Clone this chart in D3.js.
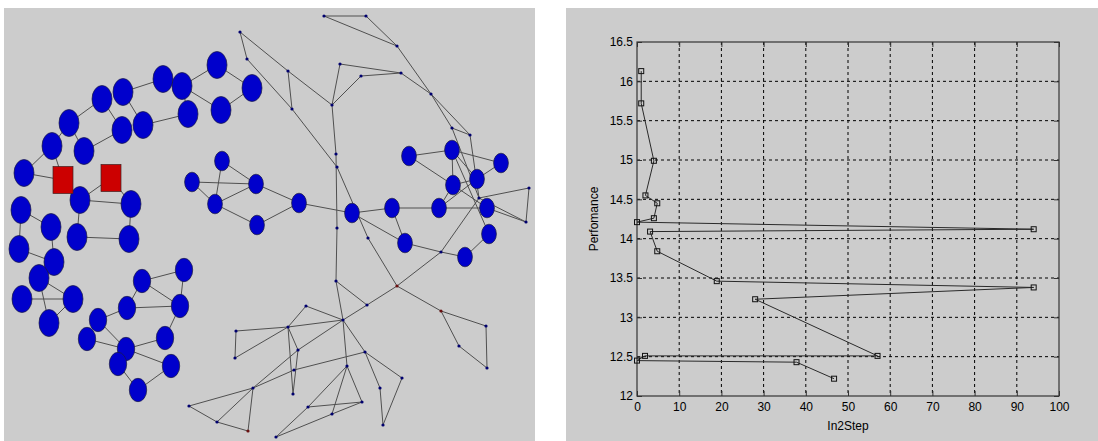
<!DOCTYPE html>
<html>
<head>
<meta charset="utf-8">
<script src="https://cdn.jsdelivr.net/npm/d3@7"></script>
<style>
body { margin: 0; background: #fff; }
svg text { font-family: "Liberation Sans", Arial, Helvetica, sans-serif; }
</style>
</head>
<body>
<svg id="chart" width="1098" height="441"></svg>
<script>
// ---- network panel: node positions ----
var bigNodes = [
  ["a1",24,173],["a2",52,146],["a3",69,123],["a4",84,151],["a5",102,99],["a6",122,130],
  ["a7",123,92],["a8",143,125],["a9",163,79],["a10",182,86],["a11",188,114],["a12",217,65],
  ["a13",221,110],["a14",252,88],["a15",80,200],["a16",131,204],["a17",21,210],["a18",51,227],
  ["a19",77,237],["a20",129,239],["a21",19,249],["a22",54,262],["a23",39,278],["a24",22,299],
  ["a25",73,299],["a26",49,323]
];
var midNodes = [
  ["b1",142,281],["b2",184,270],["b3",127,308],["b4",180,306],["b5",98,320],["b6",87,339],
  ["b7",126,349],["b8",118,364],["b9",165,338],["b10",171,366],["b11",138,390]
];
var smallNodes = [
  ["m1",222,161],["m2",192,182],["m3",215,204],["m4",256,184],["m5",257,225],["m6",299,203],
  ["m7",352,213],["m8",392,208],["m9",439,208],["m10",487,208],["m11",409,156],["m12",452,150],
  ["m13",501,163],["m14",453,185],["m15",477,179],["m16",489,234],["m17",405,243],["m18",465,257]
];
var squareNodes = [["r1",63,180],["r2",111,178]];
var dotNodes = [
  ["t1",324,16],["t2",366,16],["t3",397,46],["t4",240,32],["t5",247,59],["t6",288,71],
  ["t7",292,109],["t8",332,105],["t9",340,64],["t10",361,76],["t11",401,73],["t12",431,94],
  ["t13",452,128],["t14",470,135],["t15",479,198],["t16",529,188],["t17",526,222],["t18",441,252],
  ["t19",397,286],["t20",337,167],["t21",368,238],["t22",336,154],["t23",337,228],["t24",336,281],
  ["t25",343,320],["t26",367,305],["t27",441,311],["t28",486,326],["t29",459,346],["t30",487,368],
  ["t31",306,306],["t32",288,327],["t33",236,331],["t34",235,358],["t35",298,350],["t36",294,370],
  ["t37",293,394],["t38",253,388],["t39",189,406],["t40",217,422],["t41",248,431],["t42",365,352],
  ["t43",347,366],["t44",362,402],["t45",308,407],["t46",332,414],["t47",276,437],["t48",380,388],
  ["t49",402,378],["t50",383,425]
];
var redDots = ["t19","t27","t41"];

var netLinks = [
  // left arc
  ["a1","a2"],["a1","r1"],["a2","r1"],["a2","a3"],["a3","a4"],["a3","a5"],["a4","a6"],["a5","a6"],
  ["a7","a8"],["a7","a9"],["a8","a11"],["a9","a10"],["a10","a11"],["a10","a12"],["a10","a13"],
  ["a12","a14"],["a13","a14"],["r1","a15"],["r2","a15"],["r2","a16"],["a15","a16"],
  ["a17","a18"],["a18","a22"],["a21","a22"],["a21","a17"],["a22","a23"],["a23","a25"],["a24","a25"],
  ["a23","a26"],["a26","a25"],["a15","a19"],["a19","a20"],["a20","a16"],
  // lower left group
  ["b1","b2"],["b1","b4"],["b2","b4"],["b1","b3"],["b3","b4"],["b3","b5"],["b5","b7"],["b6","b7"],
  ["b7","b9"],["b7","b10"],["b4","b9"],["b8","b11"],["b11","b10"],
  // middle chain + right group
  ["m1","m3"],["m1","m4"],["m2","m3"],["m2","m4"],["m3","m5"],["m3","m4"],["m4","m6"],["m5","m6"],
  ["m6","m7"],["m7","m8"],["m7","m17"],["m8","m9"],["m8","m17"],["m17","t18"],["t18","m18"],
  ["m9","m10"],["m9","m15"],["m9","m14"],["m14","m10"],["m11","m12"],["m11","m14"],["m12","m14"],
  ["m12","m13"],["m12","m15"],["m14","m15"],["m15","m13"],["m16","m18"],["m10","t17"],["m12","m16"],
  // thin tree
  ["t1","t2"],["t1","t3"],["t2","t3"],["t3","t12"],["t12","t13"],["t11","t12"],["t12","t14"],
  ["t13","t14"],["t13","t15"],["t14","t15"],["t15","t16"],["t16","t17"],["t17","t15"],["t15","t18"],
  ["t18","t19"],["t4","t5"],["t4","t6"],["t6","t8"],["t6","t7"],["t5","t7"],["t7","t20"],["t20","t21"],
  ["t21","t19"],["t8","t9"],["t9","t11"],["t8","t10"],["t10","t11"],["t8","t22"],["t22","t23"],
  ["t23","t24"],["t24","t25"],["t24","t26"],["t19","t26"],["t26","t25"],["t19","t27"],["t27","t28"],
  ["t28","t30"],["t30","t29"],["t29","t27"],["t25","t31"],["t31","t32"],["t33","t32"],["t32","t25"],
  ["t33","t34"],["t34","t32"],["t32","t35"],["t32","t37"],["t35","t37"],["t25","t35"],["t35","t38"],
  ["t42","t36"],["t36","t38"],["t38","t39"],["t39","t40"],["t40","t38"],["t38","t41"],["t40","t41"],
  ["t25","t43"],["t25","t42"],["t42","t48"],["t42","t49"],["t48","t50"],["t49","t50"],
  ["t43","t45"],["t43","t46"],["t43","t44"],["t45","t44"],["t47","t46"],["t46","t44"],["t47","t45"]
];

// ---- In2Step vs Perfomance ----
var stepVals = [1, 1, 4, 2, 4.8, 4, 0, 94, 3.1, 4.8, 18.9, 94, 28, 57, 1.9, 0, 37.8, 46.7];
var perfVals = [16.13, 15.72, 14.99, 14.55, 14.45, 14.26, 14.21, 14.12, 14.09, 13.84, 13.46, 13.38, 13.23, 12.51, 12.51, 12.45, 12.43, 12.22];
var xTicks = [0, 10, 20, 30, 40, 50, 60, 70, 80, 90, 100];
var yTicks = [12, 12.5, 13, 13.5, 14, 14.5, 15, 15.5, 16, 16.5];
var xLabel = "In2Step", yLabel = "Perfomance";

var svg = d3.select("#chart");
var bg = "#cccccc";

// panels
svg.append("rect").attr("x", 4).attr("y", 8).attr("width", 531).attr("height", 433).attr("fill", bg);
svg.append("rect").attr("x", 566).attr("y", 8).attr("width", 532).attr("height", 433).attr("fill", bg);

// ---------- network ----------
var netX = d3.scaleLinear().domain([4, 535]).range([4, 535]);
var netY = d3.scaleLinear().domain([8, 441]).range([8, 441]);

var pos = {};
function addNodes(list, kind) {
  list.forEach(function(d) { pos[d[0]] = {id: d[0], x: d[1], y: d[2], kind: kind}; });
}
addNodes(bigNodes, "big");
addNodes(midNodes, "mid");
addNodes(smallNodes, "small");
addNodes(squareNodes, "square");
addNodes(dotNodes, "dot");

var sizes = {big: [10, 13.5], mid: [8.7, 11.7], small: [7.4, 9.8]};

var net = svg.append("g");
net.append("g").selectAll("line")
  .data(netLinks)
  .enter().append("line")
  .attr("x1", function(d) { return netX(pos[d[0]].x); })
  .attr("y1", function(d) { return netY(pos[d[0]].y); })
  .attr("x2", function(d) { return netX(pos[d[1]].x); })
  .attr("y2", function(d) { return netY(pos[d[1]].y); })
  .attr("stroke", "#505050")
  .attr("stroke-width", 1);

var allNodes = Object.keys(pos).map(function(k) { return pos[k]; });

net.append("g").selectAll("circle")
  .data(allNodes.filter(function(d) { return d.kind == "dot"; }))
  .enter().append("circle")
  .attr("cx", function(d) { return netX(d.x); })
  .attr("cy", function(d) { return netY(d.y); })
  .attr("r", 1.6)
  .attr("fill", function(d) { return redDots.indexOf(d.id) >= 0 ? "#6a1010" : "#00006e"; });

net.append("g").selectAll("ellipse")
  .data(allNodes.filter(function(d) { return sizes[d.kind]; }))
  .enter().append("ellipse")
  .attr("cx", function(d) { return netX(d.x); })
  .attr("cy", function(d) { return netY(d.y); })
  .attr("rx", function(d) { return sizes[d.kind][0]; })
  .attr("ry", function(d) { return sizes[d.kind][1]; })
  .attr("fill", "#0000cc")
  .attr("stroke", "#1a1a40")
  .attr("stroke-width", 0.7);

net.append("g").selectAll("rect")
  .data(allNodes.filter(function(d) { return d.kind == "square"; }))
  .enter().append("rect")
  .attr("x", function(d) { return netX(d.x) - 10; })
  .attr("y", function(d) { return netY(d.y) - 13.5; })
  .attr("width", 20)
  .attr("height", 27)
  .attr("fill", "#cc0000")
  .attr("stroke", "#402020")
  .attr("stroke-width", 0.7);

// ---------- line plot ----------
var plotL = 637, plotR = 1059, plotT = 42, plotB = 396;
var x = d3.scaleLinear().domain([0, 100]).range([plotL, plotR]);
var y = d3.scaleLinear().domain([12, 16.5]).range([plotB, plotT]);

var plot = svg.append("g");

// dotted grid
plot.append("g").selectAll("line")
  .data(xTicks.slice(1, -1))
  .enter().append("line")
  .attr("x1", function(d) { return x(d); }).attr("x2", function(d) { return x(d); })
  .attr("y1", plotT).attr("y2", plotB)
  .attr("stroke", "#000").attr("stroke-width", 1).attr("stroke-dasharray", "3,3");
plot.append("g").selectAll("line")
  .data(yTicks.slice(1, -1))
  .enter().append("line")
  .attr("x1", plotL).attr("x2", plotR)
  .attr("y1", function(d) { return y(d); }).attr("y2", function(d) { return y(d); })
  .attr("stroke", "#000").attr("stroke-width", 1).attr("stroke-dasharray", "3,3");

// axes, ticks pointing inward
plot.append("g").attr("transform", "translate(0," + plotB + ")")
  .call(d3.axisBottom(x).tickValues(xTicks).tickSizeInner(-5).tickSizeOuter(0).tickPadding(6)
    .tickFormat(d3.format("d")));
plot.append("g").attr("transform", "translate(" + plotL + ",0)")
  .call(d3.axisLeft(y).tickValues(yTicks).tickSizeInner(-5).tickSizeOuter(0).tickPadding(4)
    .tickFormat(function(d) { return String(d); }));
plot.append("g").attr("transform", "translate(0," + plotT + ")")
  .call(d3.axisTop(x).tickValues(xTicks).tickSizeInner(-5).tickSizeOuter(0).tickFormat(""));
plot.append("g").attr("transform", "translate(" + plotR + ",0)")
  .call(d3.axisRight(y).tickValues(yTicks).tickSizeInner(-5).tickSizeOuter(0).tickFormat(""));

plot.selectAll(".domain").remove();
plot.selectAll(".tick line").attr("stroke", "#333");
plot.selectAll(".tick text").attr("font-size", 12).attr("fill", "#000")
  .attr("font-family", "'Liberation Sans', Arial, sans-serif");

plot.append("rect")
  .attr("x", plotL).attr("y", plotT)
  .attr("width", plotR - plotL).attr("height", plotB - plotT)
  .attr("fill", "none").attr("stroke", "#333").attr("stroke-width", 1.2);

// series
var pts = stepVals.map(function(v, i) { return [v, perfVals[i]]; });
var line = d3.line()
  .x(function(d) { return x(d[0]); })
  .y(function(d) { return y(d[1]); });

plot.append("path")
  .datum(pts)
  .attr("d", line)
  .attr("fill", "none")
  .attr("stroke", "#2a2a2a")
  .attr("stroke-width", 1);

plot.append("g").selectAll("rect")
  .data(pts)
  .enter().append("rect")
  .attr("x", function(d) { return x(d[0]) - 2.5; })
  .attr("y", function(d) { return y(d[1]) - 2.5; })
  .attr("width", 5).attr("height", 5)
  .attr("fill", "none").attr("stroke", "#111").attr("stroke-width", 1);

// labels
plot.append("text")
  .attr("x", (plotL + plotR) / 2).attr("y", 430)
  .attr("text-anchor", "middle").attr("font-size", 12)
  .text(xLabel);
plot.append("text")
  .attr("transform", "translate(598," + ((plotT + plotB) / 2) + ") rotate(-90)")
  .attr("text-anchor", "middle").attr("font-size", 12)
  .text(yLabel);
</script>
</body>
</html>
